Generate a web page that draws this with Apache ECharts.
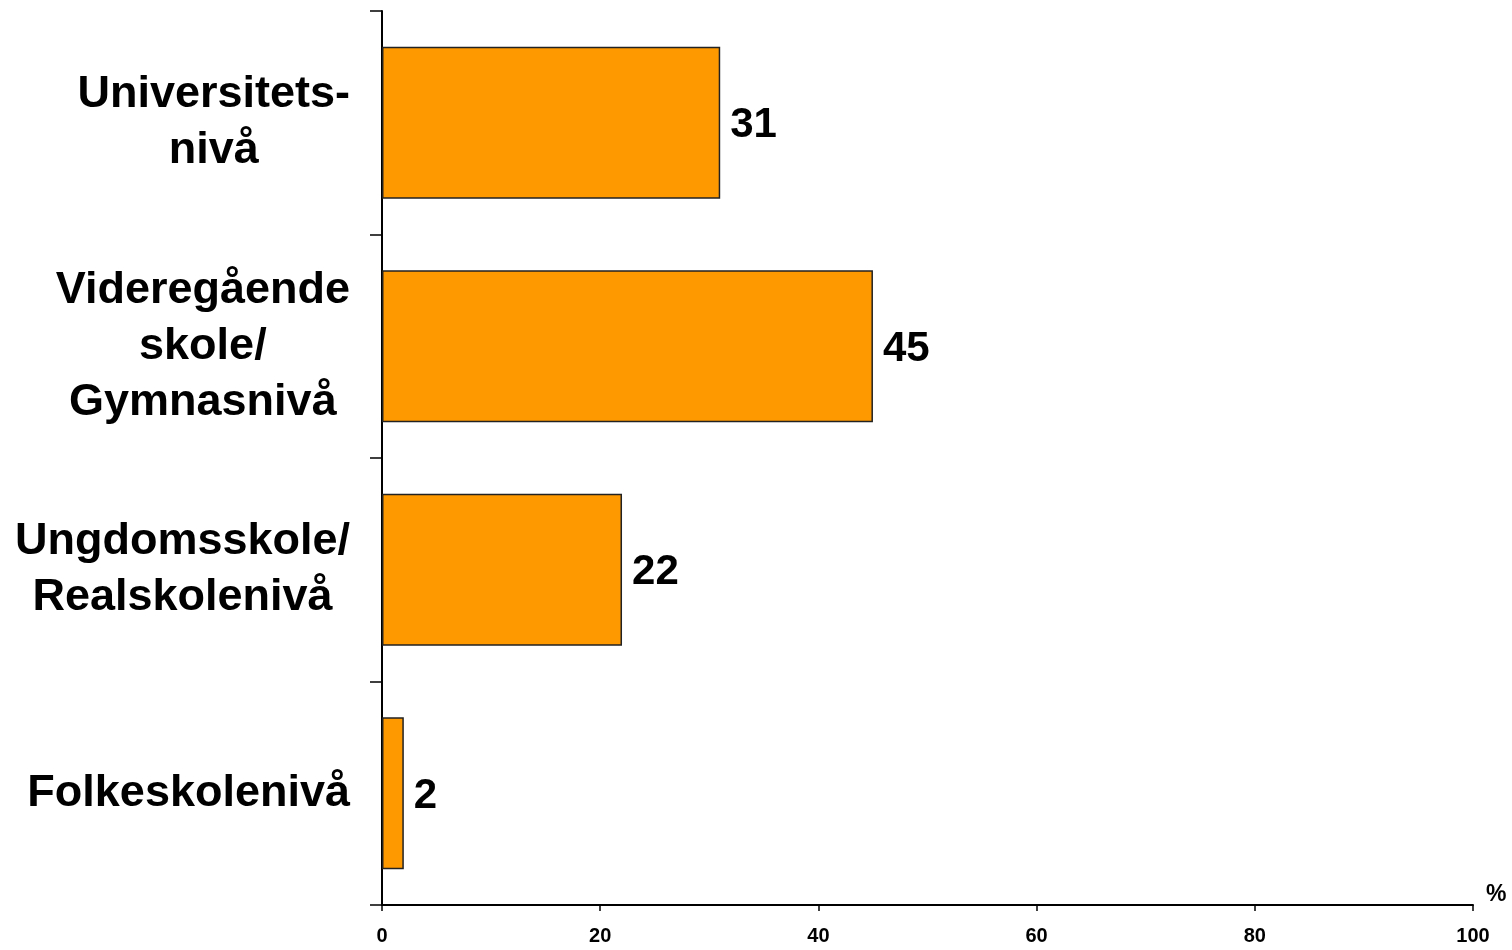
<!DOCTYPE html>
<html><head><meta charset="utf-8">
<script src="https://cdn.jsdelivr.net/npm/echarts@6/dist/echarts.min.js"></script>
<style>html,body{margin:0;padding:0;background:#fff}#c{width:1512px;height:950px}</style>
</head><body><div id="c"></div>
<script>
const categories = ['Universitets-\nnivå', 'Videregående\nskole/\nGymnasnivå', 'Ungdomsskole/\nRealskolenivå', 'Folkeskolenivå'];
const values = [31, 45, 22, 2];
const xTicks = [0, 20, 40, 60, 80, 100];
const unitLabel = '%';

const FONT = 'Arial, "Liberation Sans", sans-serif';
const chart = echarts.init(document.getElementById('c'), null, {renderer: 'canvas'});
chart.setOption({
  animation: false,
  backgroundColor: '#fff',
  grid: {left: 382, right: 39, top: 11, bottom: 45, containLabel: false},
  xAxis: {
    type: 'value', min: xTicks[0], max: xTicks[xTicks.length - 1], interval: 20,
    name: unitLabel, nameLocation: 'end', nameGap: 13,
    nameTextStyle: {fontFamily: FONT, fontSize: 23, fontWeight: 'bold', color: '#000', verticalAlign: 'bottom', align: 'left', lineHeight: 20},
    axisLine: {show: true, lineStyle: {color: '#000', width: 2}},
    axisTick: {show: true, length: 6, lineStyle: {color: '#000', width: 1.5}},
    splitLine: {show: false},
    axisLabel: {margin: 21, fontFamily: FONT, fontSize: 20, fontWeight: 'bold', color: '#000'}
  },
  yAxis: {
    type: 'category', data: categories, inverse: true,
    axisLine: {show: true, lineStyle: {color: '#000', width: 2}},
    axisTick: {show: true, length: 12, alignWithLabel: false, lineStyle: {color: '#000', width: 1.5}},
    axisLabel: {
      margin: 32, fontFamily: FONT, fontSize: 45, fontWeight: 'bold', color: '#000', lineHeight: 56,
      formatter: function (v) { return v.split('\n').map(l => '{c|' + l + '}').join('\n'); },
      rich: {c: {align: 'center', fontFamily: FONT, fontSize: 45, fontWeight: 'bold', color: '#000', lineHeight: 56}}
    }
  },
  series: [{
    type: 'bar', data: values, barCategoryGap: '32%',
    itemStyle: {color: '#FF9900', borderColor: '#222', borderWidth: 1.5},
    label: {show: true, position: 'right', distance: 10, offset: [0, 3], fontFamily: FONT, fontSize: 42, fontWeight: 'bold', color: '#000'}
  }]
});
</script></body></html>
